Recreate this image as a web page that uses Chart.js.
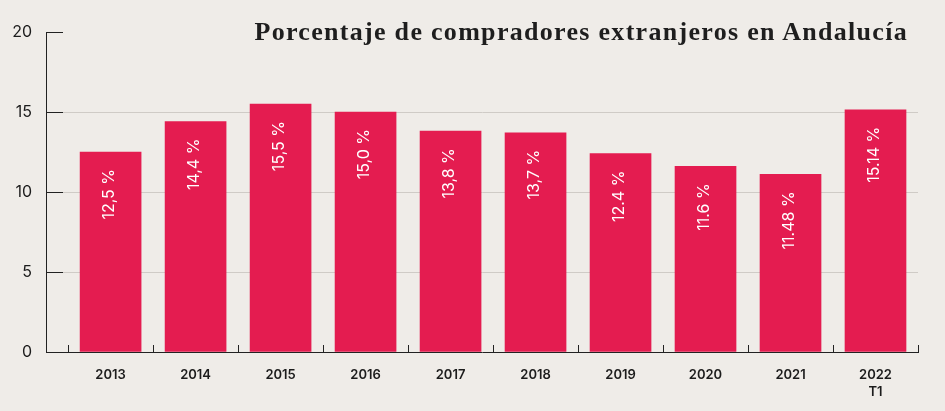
<!DOCTYPE html>
<html lang="es">
<head>
<meta charset="utf-8">
<script src="https://cdn.jsdelivr.net/npm/chart.js@4.4.1/dist/chart.umd.min.js"></script>
<style>
html,body{margin:0;padding:0;background:#efece8;}
#wrap{position:relative;width:945px;height:411px;overflow:hidden;}
#title{position:absolute;right:37px;top:19px;margin:0;font:bold 26px/26px "Liberation Serif",serif;letter-spacing:1.3px;color:#1e1e1e;white-space:nowrap;}
canvas{position:absolute;left:0;top:0;}
</style>
</head>
<body>
<div id="wrap">
<canvas id="c" width="945" height="411"></canvas>
<h1 id="title">Porcentaje de compradores extranjeros en Andalucía</h1>
</div>
<script>
const categories = ['2013', '2014', '2015', '2016', '2017', '2018', '2019', '2020', '2021', ['2022', 'T1']];
const values = [12.5, 14.4, 15.5, 15.0, 13.8, 13.7, 12.4, 11.6, 11.1, 15.14];
const valueLabels = ['12,5 %', '14,4 %', '15,5 %', '15,0 %', '13,8 %', '13,7 %', '12.4 %', '11.6 %', '11.48 %', '15.14 %'];
const yTicks = [0, 5, 10, 15, 20];

const points = values.map((v, i) => ({ x: i, y: v }));

const barLabels = {
  id: 'barLabels',
  afterDatasetsDraw(chart) {
    const ctx = chart.ctx;
    const meta = chart.getDatasetMeta(0);
    ctx.save();
    ctx.fillStyle = '#ffffff';
    ctx.font = '400 16px Inter';
    ctx.textAlign = 'right';
    ctx.textBaseline = 'middle';
    meta.data.forEach((bar, i) => {
      ctx.save();
      ctx.translate(bar.x - 1, bar.y + 17);
      ctx.rotate(-Math.PI / 2);
      ctx.fillText(valueLabels[i], 0, 0);
      ctx.restore();
    });
    ctx.restore();
  }
};

new Chart(document.getElementById('c'), {
  type: 'bar',
  data: {
    datasets: [{
      data: points,
      backgroundColor: '#e41c50',
      borderWidth: 0,
      barThickness: 61
    }]
  },
  options: {
    responsive: false,
    animation: false,
    layout: { padding: { top: 32, right: 27, bottom: 0, left: 0 } },
    plugins: { legend: { display: false }, tooltip: { enabled: false }, title: { display: false } },
    scales: {
      x: {
        type: 'linear',
        offset: false,
        bounds: 'data',
        min: -0.76,
        max: categories.length - 0.5,
        afterBuildTicks: (s) => {
          const t = [];
          for (let i = 0; i < categories.length; i++) {
            t.push({ value: i - 0.5 });
            t.push({ value: i });
          }
          t.push({ value: categories.length - 0.5 });
          s.ticks = t;
        },
        afterFit: (s) => { s.height = 59; s.paddingLeft = 0; s.paddingRight = 0; },
        grid: {
          offset: false,
          drawOnChartArea: false,
          drawTicks: true,
          tickLength: -7,
          tickWidth: 1,
          tickColor: (c) => (c.tick && Number.isInteger(c.tick.value)) ? 'rgba(0,0,0,0)' : '#222222'
        },
        border: { color: '#222222', width: 1 },
        ticks: {
          autoSkip: false,
          maxRotation: 0,
          minRotation: 0,
          padding: 22,
          color: '#1c1c1c',
          font: { family: 'Inter', size: 13, weight: '600', lineHeight: 17 / 13 },
          callback: (v) => Number.isInteger(v) ? categories[v] : ''
        }
      },
      y: {
        min: 0,
        max: 20,
        afterBuildTicks: (s) => { s.ticks = yTicks.map(v => ({ value: v })); },
        afterFit: (s) => { s.width = 46; s.paddingTop = 0; s.paddingBottom = 0; },
        grid: {
          color: (c) => (c.tick && (c.tick.value === 0 || c.tick.value === 20)) ? 'rgba(0,0,0,0)' : '#cfcbc6',
          tickColor: '#222222',
          tickLength: -17,
          lineWidth: 1
        },
        border: { color: '#222222', width: 1 },
        ticks: {
          padding: 31,
          color: '#1c1c1c',
          font: { family: 'Inter', size: 16, weight: '400' },
          callback: (v) => String(v)
        }
      }
    }
  },
  plugins: [barLabels]
});
</script>
</body>
</html>
